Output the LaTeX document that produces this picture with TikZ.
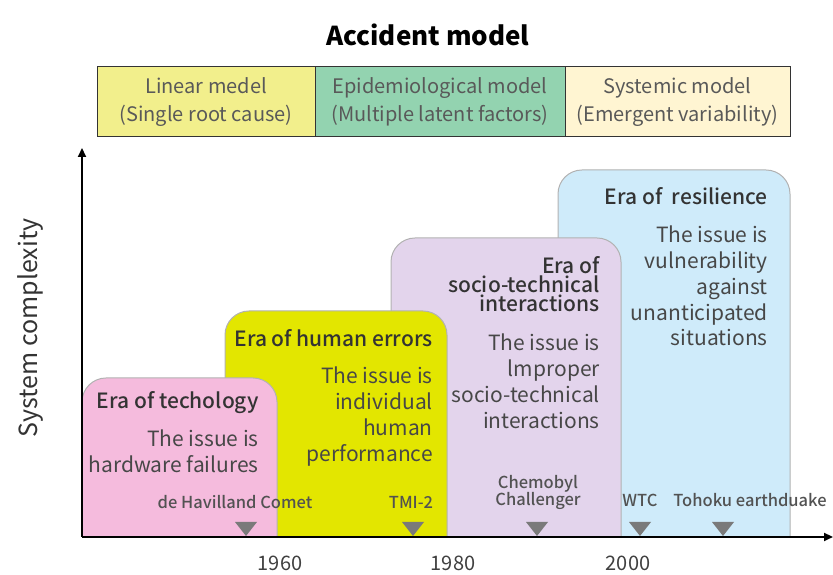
\documentclass[tikz,border=0pt]{standalone}
\usepackage{fontspec}
\setmainfont{Noto Sans CJK KR}
\newfontfamily\medfont{Noto Sans CJK KR Medium}
\usetikzlibrary{arrows.meta}
\definecolor{linearfill}{HTML}{F2EF8C}
\definecolor{epifill}{HTML}{93D3B0}
\definecolor{sysfill}{HTML}{FFF5D2}
\definecolor{techfill}{HTML}{F5BBDD}
\definecolor{humanfill}{HTML}{E3E600}
\definecolor{socialfill}{HTML}{E3D4EC}
\definecolor{resilfill}{HTML}{CFEBFA}
\definecolor{markgray}{HTML}{7A7A7A}
\tikzset{
  modelbox/.style={draw=black!80, line width=1pt, minimum height=70pt, align=center,
    inner sep=0pt, text=black!65, font=\fontsize{20}{28}\selectfont},
  era/.style={draw=black!30, line width=1pt},
  eratitle/.style={anchor=north east, inner sep=0pt, align=right, text=black!80,
    font=\fontsize{21}{19}\selectfont\medfont},
  erabody/.style={anchor=north east, inner sep=0pt, align=right, text=black!72,
    font=\fontsize{21}{25.7}\selectfont},
  event/.style={inner sep=0pt, align=center, text=black!68, font=\fontsize{16.5}{17}\selectfont\medfont},
  year/.style={text=black!75, font=\fontsize{20}{24}\selectfont},
  axis/.style={line width=2.2pt, -{Triangle[length=9pt,width=8pt]}}
}

\begin{document}
\begin{tikzpicture}[x=1pt, y=1pt]
  \useasboundingbox (0,0) rectangle (833,575);

  \node (title) at (428,540) {\fontsize{26}{30}\selectfont\bfseries Accident model};

  \node (linear) [modelbox, fill=linearfill, minimum width=218pt] at (206,473)
        {Linear medel\\(Single root cause)};
  \node (epidem) [modelbox, fill=epifill, minimum width=250pt] at (440,473)
        {Epidemiological model\\(Multiple latent factors)};
  \node (systemic) [modelbox, fill=sysfill, minimum width=225pt] at (677.5,473)
        {Systemic model\\(Emergent variability)};

  \draw[era, fill=resilfill] (558,38) -- (558,381) arc[start angle=180, end angle=90, radius=24]
        -- (766,405) arc[start angle=90, end angle=0, radius=24] -- (790,38);
  \draw[era, fill=socialfill] (391,38) -- (391,313) arc[start angle=180, end angle=90, radius=24]
        -- (597,337) arc[start angle=90, end angle=0, radius=24] -- (621,38);
  \draw[era, fill=humanfill] (225,38) -- (225,240) arc[start angle=180, end angle=90, radius=24]
        -- (423,264) arc[start angle=90, end angle=0, radius=24] -- (447,38);
  \draw[era, fill=techfill] (82,38) -- (82,173) arc[start angle=180, end angle=90, radius=24]
        -- (253,197) arc[start angle=90, end angle=0, radius=24] -- (277,38);

  \node (techtitle)   [eratitle] at (259,184) {Era of techology};
  \node (techbody)    [erabody]  at (259,145) {The issue is\\hardware failures};
  \node (humantitle)  [eratitle] at (433,246) {Era of human errors};
  \node (humanbody)   [erabody]  at (433,208) {The issue is\\individual\\human\\performance};
  \node (socialtitle) [eratitle] at (600,319) {Era of\\socio-technical\\interactions};
  \node (socialbody)  [erabody]  at (600,241) {The issue is\\lmproper\\socio-technical\\interactions};
  \node (resiltitle)  [eratitle] at (768,388) {Era of\ \ resilience};
  \node (resilbody)   [erabody]  at (768,349) {The issue is\\vulnerability\\against\\unanticipated\\situations};

  \node (comet)    [event, anchor=base]  at (235,66) {de Havilland Comet};
  \node (tmi)      [event, anchor=base]  at (411,66) {TMI-2};
  \node (chernob)  [event, anchor=south] at (538,65) {Chemobyl\\Challenger};
  \node (wtc)      [event, anchor=base]  at (640,68) {WTC};
  \node (tohoku)   [event, anchor=base]  at (750,68) {Tohoku earthduake};

  \fill[markgray] (235,53) -- (257,53) -- (246,39) -- cycle;
  \fill[markgray] (402,53) -- (424,53) -- (413,39) -- cycle;
  \fill[markgray] (526,53) -- (548,53) -- (537,39) -- cycle;
  \fill[markgray] (629,53) -- (651,53) -- (640,39) -- cycle;
  \fill[markgray] (712,53) -- (734,53) -- (723,39) -- cycle;

  \coordinate (origin) at (82,38);
  \coordinate (ytip) at (82,427);
  \coordinate (xtip) at (833,38);
  \draw[axis] (origin) -- (ytip);
  \draw[axis] (origin) -- (xtip);

  \node (ylabel) [rotate=90, text=black!80, font=\fontsize{25}{30}\selectfont] at (30,247) {System complexity};

  \node (y1960) [year] at (280,12) {1960};
  \node (y1980) [year] at (453,12) {1980};
  \node (y2000) [year] at (628,12) {2000};
\end{tikzpicture}
\end{document}
